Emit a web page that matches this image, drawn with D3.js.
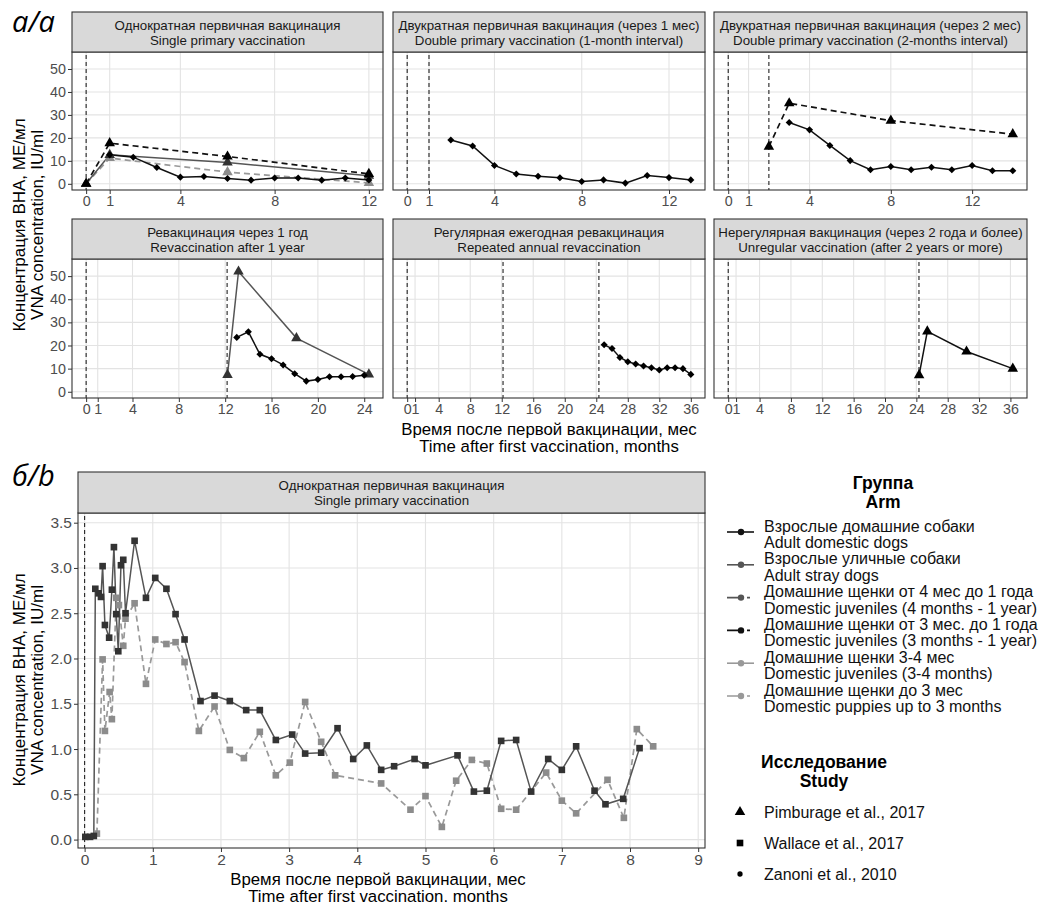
<!DOCTYPE html>
<html>
<head>
<meta charset="utf-8">
<script src="https://cdn.jsdelivr.net/npm/d3@7.9.0/dist/d3.min.js"></script>
<style>
  body { margin: 0; background: #fff; }
  svg { font-family: "Liberation Sans", Arial, sans-serif; }
</style>
</head>
<body>
<svg id="chart" width="1043" height="907"></svg>
<script>
// ---- data (months after first vaccination, VNA IU/ml) ----
const single_juv3m1y_pim = [[0, 0], [1, 17.7], [6, 11.9], [12, 4.3]];
const single_stray_pim   = [[0, 0], [1, 12.6], [6, 9.3], [12, 3.5]];
const single_pup3_pim    = [[0, 0], [1, 11.2], [6, 5.1], [12, 0.4]];
const single_adult_zan   = [[1, 12.6], [2, 11.6], [3, 7.1], [4, 2.9], [5, 3.2], [6, 2.3], [7, 1.6],
                            [8, 2.5], [9, 2.5], [10, 1.6], [11, 2.5], [12, 1.7]];

const double1_adult_zan  = [[2, 19.1], [3, 16.5], [4, 8.0], [5, 4.3], [6, 3.3], [7, 2.6], [8, 1.0],
                            [9, 1.7], [10, 0.3], [11, 3.6], [12, 2.7], [13, 1.7]];

const double2_adult_zan  = [[3, 26.7], [4, 23.5], [5, 16.7], [6, 10.1], [7, 6.1], [8, 7.5], [9, 6.1],
                            [10, 7.2], [11, 6.1], [12, 8.0], [13, 5.7], [14, 5.7]];
const double2_juv3m1y_pim = [[2, 16.2], [3, 35.1], [8, 27.5], [14, 21.6]];

const revac1_stray_pim   = [[12.2, 7.3], [13.15, 52], [18.15, 23.2], [24.4, 7.5]];
const revac1_adult_zan   = [[13, 23.5], [14, 25.9], [15, 16.2], [16, 14.3], [17, 11.6], [18, 7.8],
                            [19, 4.6], [20, 5.3], [21, 6.5], [22, 6.5], [23, 6.6], [24, 7.1]];

const annual_adult_zan   = [[25, 20.3], [26, 18.7], [27, 14.8], [28, 13.0], [29, 12.0], [30, 11.1],
                            [31, 10.4], [32, 9.4], [33, 10.4], [34, 10.4], [35, 10.0], [36, 7.5]];

const irregular_adult_pim = [[24.35, 7.2], [25.4, 26.1], [30.4, 17.4], [36.3, 10.0]];

const wallace_stray = [[0.01, 0.03], [0.08, 0.03], [0.135, 0.04], [0.157, 2.77], [0.205, 2.72], [0.24, 2.68],
  [0.264, 3.02], [0.298, 2.37], [0.36, 2.23], [0.40, 2.76], [0.43, 3.23], [0.464, 2.49], [0.494, 2.08],
  [0.533, 3.03], [0.567, 3.09], [0.60, 2.50], [0.733, 3.30], [0.90, 2.67], [1.036, 2.89], [1.20, 2.77],
  [1.334, 2.49], [1.466, 2.21], [1.70, 1.53], [1.906, 1.59], [2.13, 1.53], [2.37, 1.43], [2.57, 1.43],
  [2.805, 1.10], [3.045, 1.16], [3.235, 0.95], [3.47, 0.96], [3.71, 1.23], [3.94, 0.89], [4.14, 1.04],
  [4.35, 0.77], [4.54, 0.81], [4.84, 0.89], [5.0, 0.82], [5.47, 0.93], [5.71, 0.53], [5.90, 0.54],
  [6.11, 1.09], [6.33, 1.10], [6.55, 0.53], [6.80, 0.89], [7.0, 0.77], [7.21, 1.03], [7.48, 0.54],
  [7.64, 0.39], [7.90, 0.45], [8.14, 1.01]];
const wallace_pup3 = [[0.18, 0.066], [0.264, 1.99], [0.298, 1.2], [0.367, 1.63], [0.40, 1.33], [0.464, 2.67],
  [0.503, 2.59], [0.567, 2.14], [0.60, 2.44], [0.733, 2.61], [0.90, 1.72], [1.036, 2.21], [1.20, 2.16],
  [1.334, 2.18], [1.466, 1.96], [1.676, 1.2], [1.906, 1.47], [2.13, 0.99], [2.336, 0.90], [2.57, 1.19],
  [2.805, 0.71], [3.01, 0.85], [3.235, 1.52], [3.47, 1.08], [3.675, 0.71], [4.35, 0.62], [4.78, 0.33],
  [5.0, 0.48], [5.24, 0.14], [5.45, 0.65], [5.68, 0.88], [5.90, 0.84], [6.11, 0.34], [6.33, 0.33],
  [6.77, 0.74], [7.0, 0.43], [7.21, 0.29], [7.67, 0.66], [7.91, 0.24], [8.10, 1.22], [8.34, 1.03]];

// vaccination days (in months)
const vacc_single = [0];
const vacc_double1 = [0, 1];
const vacc_double2 = [0, 2];
const vacc_revac1 = [0, 365 / 30];
const vacc_annual = [0, 365 / 30, 730 / 30];
const vacc_irregular = [0, 730 / 30];

// tick values
const ticksShort = [0, 1, 4, 8, 12];
const ticksRevac = [0, 1, 4, 8, 12, 16, 20, 24];
const ticksLong = [0, 1, 4, 8, 12, 16, 20, 24, 28, 32, 36];
const ticksTopY = [0, 10, 20, 30, 40, 50];
const ticksBottomX = [0, 1, 2, 3, 4, 5, 6, 7, 8, 9];
const ticksBottomY = [0, 0.5, 1, 1.5, 2, 2.5, 3, 3.5];

// labels
const panelTitles = [
  ["Однократная первичная вакцинация", "Single primary vaccination"],
  ["Двукратная первичная вакцинация (через 1 мес)", "Double primary vaccination (1-month interval)"],
  ["Двукратная первичная вакцинация (через 2 мес)", "Double primary vaccination (2-months interval)"],
  ["Ревакцинация через 1 год", "Revaccination after 1 year"],
  ["Регулярная ежегодная ревакцинация", "Repeated annual revaccination"],
  ["Нерегулярная вакцинация (через 2 года и более)", "Unregular vaccination (after 2 years or more)"]
];
const groupKeys = ["adult", "stray", "juv4m1y", "juv3m1y", "juv34", "pup3"];
const groupLabels = [
  ["Взрослые домашние собаки", "Adult domestic dogs"],
  ["Взрослые уличные собаки", "Adult stray dogs"],
  ["Домашние щенки от 4 мес  до 1 года", "Domestic juveniles (4 months - 1 year)"],
  ["Домашние щенки от 3 мес. до 1 года", "Domestic juveniles (3 months - 1 year)"],
  ["Домашние щенки 3-4 мес", "Domestic juveniles (3-4 months)"],
  ["Домашние щенки до 3 мес", "Domestic puppies up to 3 months"]
];
const studyKeys = ["pim", "wal", "zan"];
const studyLabels = ["Pimburage et al., 2017", "Wallace et al., 2017", "Zanoni et al., 2010"];

// ---- styles ----
const groupColor = { adult: "#111", stray: "#555", juv4m1y: "#555", juv3m1y: "#111", juv34: "#999", pup3: "#999" };
const groupDash = { adult: null, stray: null, juv4m1y: "6,4", juv3m1y: "6,4", juv34: null, pup3: "6,4" };
const ptColor = { adult: "#000", stray: "#333", juv4m1y: "#444", juv3m1y: "#000", juv34: "#8c8c8c", pup3: "#8c8c8c" };

function symbolPath(study, big) {
  if (study === "pim") return d3.symbol(d3.symbolTriangle, 48)();
  if (study === "wal") return d3.symbol(d3.symbolSquare, big ? 44 : 30)();
  return d3.symbol(d3.symbolSquare, 25)();
}

const svg = d3.select("#chart");
svg.append("rect").attr("width", 1043).attr("height", 907).attr("fill", "#fff");

function padDomain(vals) {
  const [a, b] = d3.extent(vals);
  const p = (b - a) * 0.05;
  return [a - p, b + p];
}

function facet(cfg) {
  const g = svg.append("g");
  const x = d3.scaleLinear().domain(cfg.xDom).range([cfg.left, cfg.right]);
  const y = d3.scaleLinear().domain(cfg.yDom).range([cfg.bottom, cfg.top + cfg.stripH]);
  const pTop = cfg.top + cfg.stripH;

  // grid
  g.selectAll(".gx").data(cfg.xTicks).join("line")
    .attr("x1", d => x(d)).attr("x2", d => x(d))
    .attr("y1", pTop).attr("y2", cfg.bottom)
    .attr("stroke", "#e3e3e3").attr("stroke-width", 1.1);
  g.selectAll(".gy").data(cfg.yTicks).join("line")
    .attr("x1", cfg.left).attr("x2", cfg.right)
    .attr("y1", d => y(d)).attr("y2", d => y(d))
    .attr("stroke", "#e3e3e3").attr("stroke-width", 1.1);

  // vaccination lines
  g.selectAll(".vl").data(cfg.vlines).join("line")
    .attr("x1", d => x(d)).attr("x2", d => x(d))
    .attr("y1", pTop + 3).attr("y2", cfg.bottom)
    .attr("stroke", "#222").attr("stroke-width", 1.1).attr("stroke-dasharray", "4,3");

  const line = d3.line().x(d => x(d[0])).y(d => y(d[1]));
  cfg.series.forEach(s => {
    g.append("path").datum(s.pts)
      .attr("d", line).attr("fill", "none")
      .attr("stroke", groupColor[s.group])
      .attr("stroke-width", groupDash[s.group] ? 1.7 : 1.5)
      .attr("stroke-dasharray", groupDash[s.group]);
  });
  cfg.series.forEach(s => {
    g.selectAll(null).data(s.pts).join("path")
      .attr("d", symbolPath(s.study, cfg.big))
      .attr("transform", d => `translate(${x(d[0])},${y(d[1])})` + (s.study === "zan" ? " rotate(45)" : ""))
      .attr("fill", ptColor[s.group]);
  });

  // panel border
  g.append("rect").attr("x", cfg.left).attr("y", pTop)
    .attr("width", cfg.right - cfg.left).attr("height", cfg.bottom - pTop)
    .attr("fill", "none").attr("stroke", "#333").attr("stroke-width", 1.1);

  // strip
  g.append("rect").attr("x", cfg.left).attr("y", cfg.top)
    .attr("width", cfg.right - cfg.left).attr("height", cfg.stripH)
    .attr("fill", "#d9d9d9").attr("stroke", "#333").attr("stroke-width", 1.1);
  g.selectAll(".st").data(cfg.title).join("text")
    .attr("x", (cfg.left + cfg.right) / 2)
    .attr("y", (d, i) => cfg.top + cfg.stripH / 2 - 2.5 + i * 15)
    .attr("text-anchor", "middle").attr("font-size", 13.3).attr("fill", "#1a1a1a")
    .text(d => d);

  // axes
  const fs = cfg.big ? 15.5 : 14.3;
  const xa = g.append("g").attr("transform", `translate(0,${cfg.bottom})`)
    .call(d3.axisBottom(x).tickValues(cfg.xTicks).tickSize(4).tickSizeOuter(0).tickPadding(2)
      .tickFormat(d3.format("d")));
  xa.select(".domain").remove();
  xa.selectAll("line").attr("stroke", "#333");
  xa.selectAll("text").attr("font-size", fs).attr("fill", "#4d4d4d").attr("font-family", null);
  if (cfg.showY) {
    const ya = g.append("g").attr("transform", `translate(${cfg.left},0)`)
      .call(d3.axisLeft(y).tickValues(cfg.yTicks).tickSize(4).tickSizeOuter(0).tickPadding(2)
        .tickFormat(cfg.big ? d3.format(".1f") : d3.format("d")));
    ya.select(".domain").remove();
    ya.selectAll("line").attr("stroke", "#333");
    ya.selectAll("text").attr("font-size", fs).attr("fill", "#4d4d4d").attr("font-family", null);
  }
}

// ---- panel a ----
const colX = [[72, 383], [393, 705], [714, 1027]];
const topYDom = [-2.7, 57.4];
const rowTop = [{ top: 12, bottom: 190 }, { top: 219, bottom: 398 }];
const stripH = 40;

const panelSeries = [
  { vlines: vacc_single, ticks: ticksShort, series: [
      { group: "pup3", study: "pim", pts: single_pup3_pim },
      { group: "stray", study: "pim", pts: single_stray_pim },
      { group: "juv3m1y", study: "pim", pts: single_juv3m1y_pim },
      { group: "adult", study: "zan", pts: single_adult_zan }] },
  { vlines: vacc_double1, ticks: ticksShort, series: [
      { group: "adult", study: "zan", pts: double1_adult_zan }] },
  { vlines: vacc_double2, ticks: ticksShort, series: [
      { group: "juv3m1y", study: "pim", pts: double2_juv3m1y_pim },
      { group: "adult", study: "zan", pts: double2_adult_zan }] },
  { vlines: vacc_revac1, ticks: ticksRevac, series: [
      { group: "stray", study: "pim", pts: revac1_stray_pim },
      { group: "adult", study: "zan", pts: revac1_adult_zan }] },
  { vlines: vacc_annual, ticks: ticksLong, series: [
      { group: "adult", study: "zan", pts: annual_adult_zan }] },
  { vlines: vacc_irregular, ticks: ticksLong, series: [
      { group: "adult", study: "pim", pts: irregular_adult_pim }] }
];

panelSeries.forEach((p, i) => {
  const row = rowTop[Math.floor(i / 3)], col = colX[i % 3];
  const xs = p.vlines.concat(...p.series.map(s => s.pts.map(d => d[0])));
  facet({
    left: col[0], right: col[1], top: row.top, stripH: stripH, bottom: row.bottom,
    xDom: padDomain(xs), yDom: topYDom, xTicks: p.ticks, yTicks: ticksTopY,
    showY: i % 3 === 0, title: panelTitles[i], vlines: p.vlines, series: p.series, big: false
  });
});

// ---- panel b ----
facet({
  left: 78, right: 705, top: 472, stripH: 41, bottom: 848,
  xDom: [-0.097, 9.1], yDom: [-0.093, 3.607], xTicks: ticksBottomX, yTicks: ticksBottomY,
  showY: true, title: panelTitles[0], vlines: vacc_single, big: true,
  series: [
    { group: "pup3", study: "wal", pts: wallace_pup3 },
    { group: "stray", study: "wal", pts: wallace_stray }
  ]
});

// ---- axis titles & labels ----
function twoLines(x, y, lines, size, gap, rotate, weight) {
  const t = svg.append("text").attr("text-anchor", "middle").attr("font-size", size)
    .attr("fill", "#000").attr("font-weight", weight || "normal")
    .attr("transform", `translate(${x},${y})` + (rotate ? " rotate(-90)" : ""));
  lines.forEach((l, i) => t.append("tspan").attr("x", 0).attr("dy", i === 0 ? 0 : gap).text(l));
  return t;
}
twoLines(549, 435, ["Время после первой вакцинации, мес", "Time after first vaccination, months"], 16.8, 17);
twoLines(378, 885, ["Время после первой вакцинации, мес", "Time after first vaccination. months"], 16.8, 17);
twoLines(25, 225, ["Концентрация ВНА, МЕ/мл", "VNA concentration, IU/ml"], 17, 18, true);
twoLines(25, 680, ["Концентрация ВНА, МЕ/мл", "VNA concentration, IU/ml"], 17, 18, true);

svg.append("text").attr("x", 12).attr("y", 32).attr("font-size", 29).attr("font-style", "italic")
  .attr("font-family", "'Open Sans', 'Noto Sans', sans-serif").text("а/а");
svg.append("text").attr("x", 12).attr("y", 486).attr("font-size", 29).attr("font-style", "italic")
  .attr("font-family", "'Open Sans', 'Noto Sans', sans-serif").text("б/b");

// ---- legends ----
twoLines(883, 489, ["Группа", "Arm"], 17.5, 19, false, "bold");
const leg = svg.append("g");
groupKeys.forEach((k, i) => {
  const cy = 532 + i * 32.8;
  leg.append("line").attr("x1", 727).attr("x2", 754).attr("y1", cy).attr("y2", cy)
    .attr("stroke", groupColor[k]).attr("stroke-width", 1.6).attr("stroke-dasharray", groupDash[k] ? "16,4,3" : null);
  leg.append("circle").attr("cx", 741).attr("cy", cy).attr("r", 3.2).attr("fill", groupColor[k]);
  groupLabels[i].forEach((l, j) => {
    leg.append("text").attr("x", 764).attr("y", cy - 0.5 + j * 16.5).attr("font-size", 16).attr("fill", "#111")
      .text(l);
  });
});

twoLines(824, 768, ["Исследование", "Study"], 17.5, 19, false, "bold");
studyKeys.forEach((k, i) => {
  const cy = 812 + i * 31;
  leg.append("path").attr("d", k === "zan" ? d3.symbol(d3.symbolCircle, 22)() : symbolPath(k, true))
    .attr("transform", `translate(${740},${cy})`).attr("fill", "#000");
  leg.append("text").attr("x", 764).attr("y", cy + 5.5).attr("font-size", 16).attr("fill", "#111")
    .text(studyLabels[i]);
});
</script>
</body>
</html>
